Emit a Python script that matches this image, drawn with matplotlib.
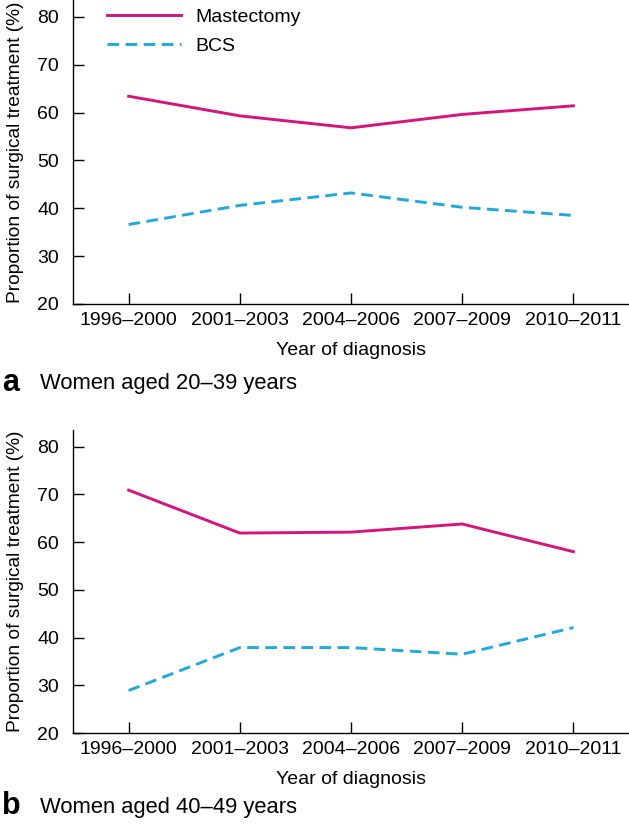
import matplotlib
matplotlib.use("Agg")
import matplotlib.pyplot as plt

plt.rcParams['font.family'] = ['Liberation Sans', 'DejaVu Sans']

periods = ["1996–2000", "2001–2003", "2004–2006", "2007–2009", "2010–2011"]
mast_a = [63.4, 59.3, 56.8, 59.6, 61.4]
bcs_a = [36.6, 40.6, 43.2, 40.2, 38.5]
mast_b = [70.9, 61.9, 62.1, 63.8, 58.0]
bcs_b = [28.9, 37.9, 37.9, 36.5, 42.1]
yticks = [20, 30, 40, 50, 60, 70, 80]

MAG = "#d6137f"
BLU = "#1fa9e1"

fig = plt.figure(figsize=(6.29, 8.24), dpi=100)

FS = 14

def panel(rect, m, b, legend):
    ax = fig.add_axes(rect)
    x = list(range(len(periods)))
    ax.plot(x, m, color=MAG, lw=2.1, label="Mastectomy")
    ax.plot(x, b, color=BLU, lw=2.1, ls=(0, (4.0, 2.2)), label="BCS")
    ax.set_xlim(-0.5, 4.5)
    ax.set_ylim(20, 83.5)
    ax.set_xticks(x)
    ax.set_xticklabels(periods)
    ax.set_yticks(yticks)
    for s in ['top', 'right']:
        ax.spines[s].set_visible(False)
    for s in ['left', 'bottom']:
        ax.spines[s].set_linewidth(1.0)
    ax.tick_params(axis='both', direction='in', length=8, width=1.0, labelsize=FS)
    ax.tick_params(axis='y', pad=10)
    ax.tick_params(axis='x', pad=6)
    ax.set_xlabel("Year of diagnosis", fontsize=FS, labelpad=9)
    ax.set_ylabel("Proportion of surgical treatment (%)", fontsize=13.8, labelpad=9.5)
    if legend:
        ax.legend(loc='upper left', bbox_to_anchor=(0.03, 1.03), frameon=False,
                  fontsize=FS, handlelength=3.8, handletextpad=0.75, labelspacing=0.6)
    return ax

panel([73/629, 1 - 304/824, 1 - 73/629, 304/824], mast_a, bcs_a, True)
panel([73/629, 1 - 733/824, 1 - 73/629, (733 - 430)/824], mast_b, bcs_b, False)

fig.text(2/629, 1 - 383/824, "a", fontsize=22, fontweight='bold', va='center', ha='left')
fig.text(40/629, 1 - 384/824, "Women aged 20–39 years", fontsize=15.8, va='center', ha='left')
fig.text(2/629, 1 - 806/824, "b", fontsize=22, fontweight='bold', va='center', ha='left')
fig.text(40/629, 1 - 807/824, "Women aged 40–49 years", fontsize=15.8, va='center', ha='left')

fig.savefig("out.png", dpi=100)
